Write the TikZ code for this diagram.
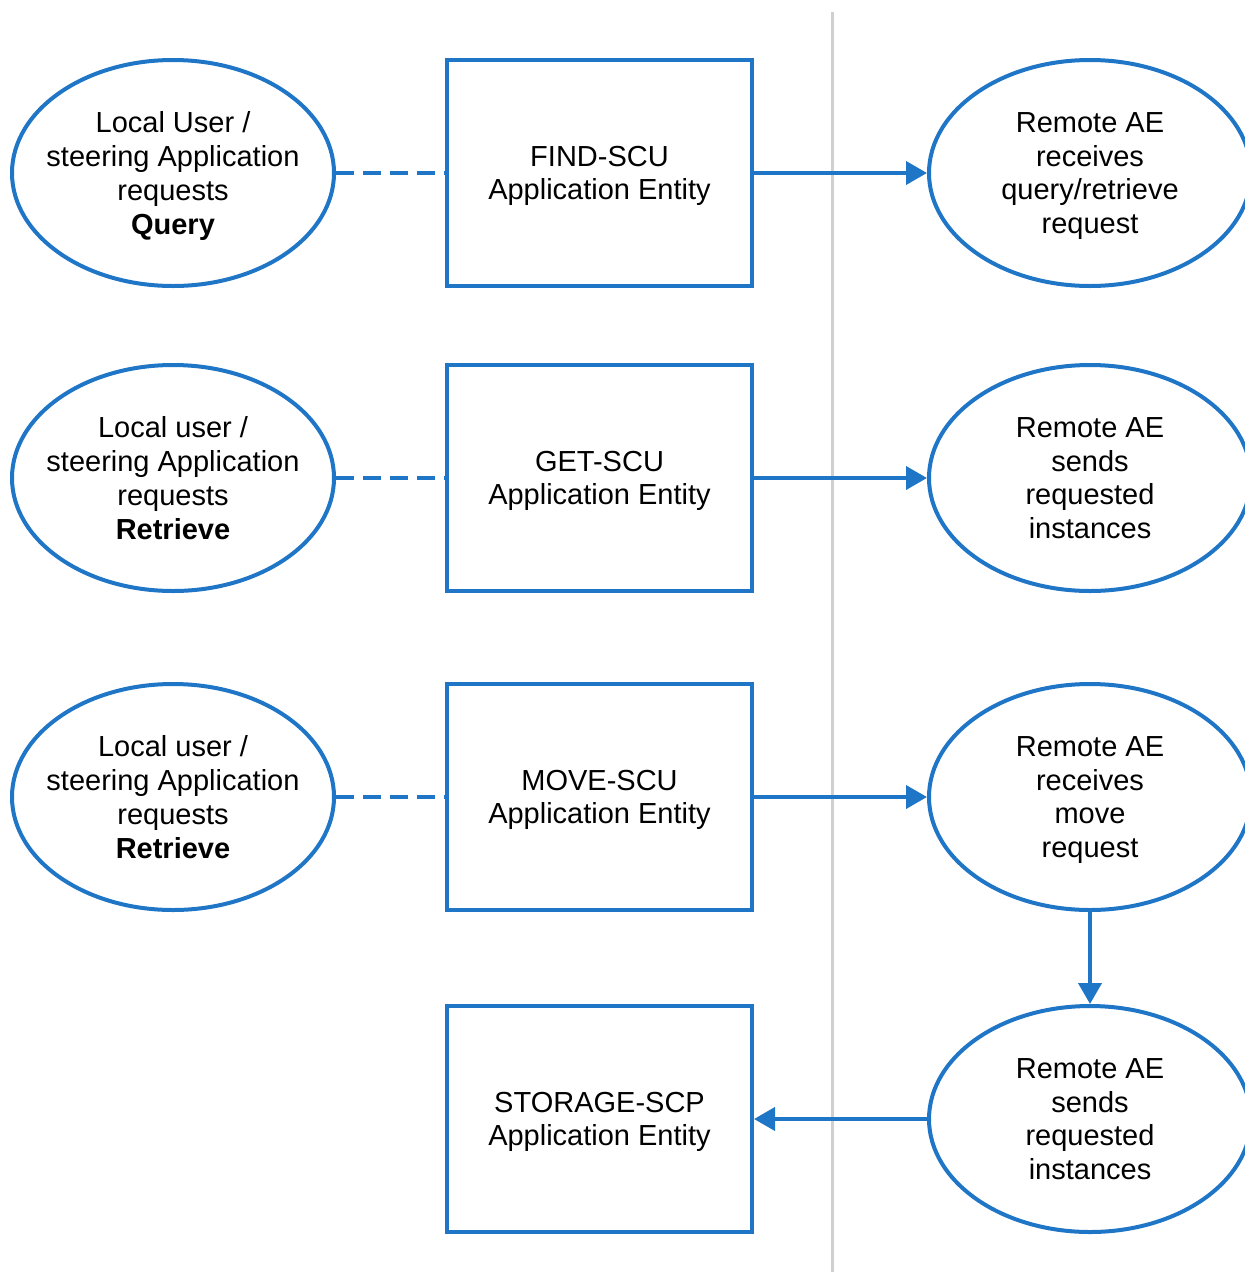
\documentclass[tikz,border=0pt]{standalone}
\usepackage{fontspec}
\setmainfont{Liberation Sans}
\usetikzlibrary{shapes.geometric,arrows.meta}
\definecolor{aeblue}{RGB}{31,117,198}
\definecolor{divgray}{RGB}{208,208,208}
\begin{document}
\begin{tikzpicture}[x=1pt,y=-1pt,
    every node/.style={font=\fontsize{29}{33.7}\selectfont, align=center, text depth=0pt},
    actor/.style={ellipse, draw=aeblue, line width=4pt, minimum width=322pt, minimum height=226pt, inner xsep=-30pt, inner ysep=0pt},
    entity/.style={rectangle, draw=aeblue, line width=4pt, minimum width=305pt, minimum height=226pt, inner sep=0pt},
    link/.style={aeblue, line width=4.5pt, dash pattern=on 18pt off 9pt},
    flow/.style={aeblue, line width=4pt, -{Triangle[length=21pt,width=23pt]}}]
    \useasboundingbox (0,0) rectangle (1245,1272);
    \draw[divgray, line width=3pt] (832,12) -- (832,1272);

    % local side
    \node[actor] (find user) at (173,173) {Local User /\\steering Application\\requests\\\textbf{Query}};
    \node[actor] (get user) at (173,478) {Local user /\\steering Application\\requests\\\textbf{Retrieve}};
    \node[actor] (move user) at (173,797) {Local user /\\steering Application\\requests\\\textbf{Retrieve}};

    \node[entity] (find ae) at (599.5,173) {FIND-SCU\\Application Entity};
    \node[entity] (get ae) at (599.5,478) {GET-SCU\\Application Entity};
    \node[entity] (move ae) at (599.5,797) {MOVE-SCU\\Application Entity};
    \node[entity] (store ae) at (599.5,1119) {STORAGE-SCP\\Application Entity};

    % remote side
    \node[actor] (find remote) at (1090,173) {Remote AE\\receives\\query/retrieve\\request};
    \node[actor] (get remote) at (1090,478) {Remote AE\\sends\\requested\\instances};
    \node[actor] (move remote) at (1090,797) {Remote AE\\receives\\move\\request};
    \node[actor] (send remote) at (1090,1119) {Remote AE\\sends\\requested\\instances};

    \draw[link] (find user) -- (find ae);
    \draw[link] (get user) -- (get ae);
    \draw[link] (move user) -- (move ae);

    \draw[flow] (find ae) -- (find remote);
    \draw[flow] (get ae) -- (get remote);
    \draw[flow] (move ae) -- (move remote);
    \draw[flow] (move remote) -- (send remote);
    \draw[flow] (send remote) -- (store ae);
\end{tikzpicture}
\end{document}
